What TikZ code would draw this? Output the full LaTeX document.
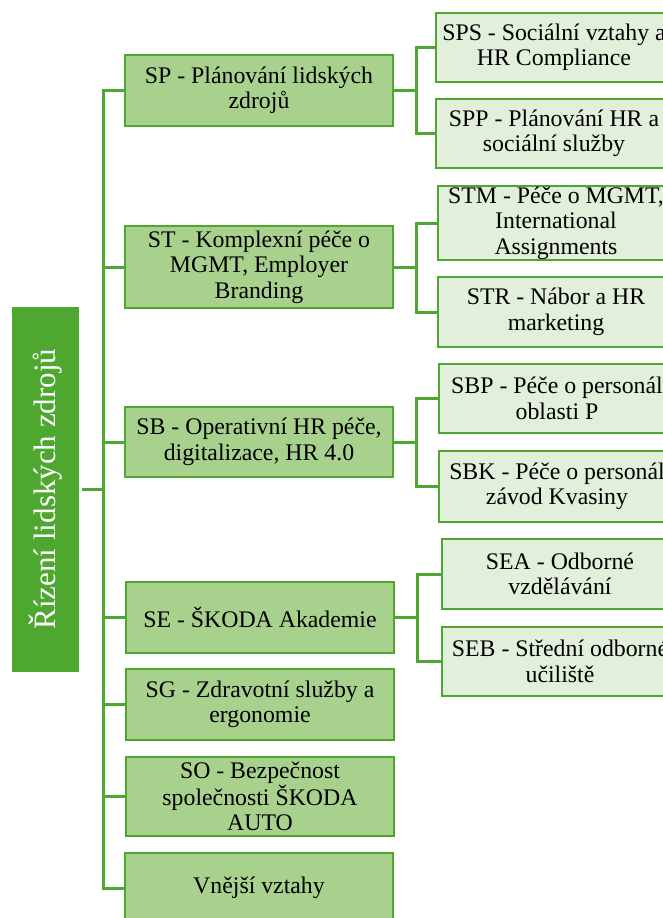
\documentclass[tikz,border=0pt]{standalone}
\usepackage{fontspec}
\setmainfont{Liberation Serif}
\definecolor{hrgreen}{HTML}{4EA72E}
\definecolor{unitfill}{HTML}{A9D18E}
\definecolor{subfill}{HTML}{E2EFDA}
\tikzset{
  rootbox/.style={fill=hrgreen, text=white, rotate=90, minimum width=365pt,
    minimum height=67pt, inner sep=0pt, font=\fontsize{31}{34}\selectfont},
  unitbox/.style={draw=hrgreen, fill=unitfill, line width=2.8pt, minimum width=268pt,
    align=center, inner sep=0pt, font=\fontsize{23.8}{25.5}\selectfont},
  subbox/.style={draw=hrgreen, fill=subfill, line width=2.8pt, minimum width=236pt,
    align=center, inner sep=0pt, font=\fontsize{23.8}{25.5}\selectfont},
  link/.style={draw=hrgreen, line width=3pt}
}

\begin{document}
\begin{tikzpicture}[x=1pt,y=-1pt]
    \useasboundingbox (0,0) rectangle (663,918);
    % root
    \node[rootbox] (root) at (45.5,489) {Řízení lidských zdrojů};
    \coordinate (trunk) at (103,489);
    % units
    \node[unitbox, minimum height=71pt] (sp) at (259,90.5) {SP - Plánování lidských\\zdrojů};
    \node[unitbox, minimum height=82pt] (st) at (259,267) {ST - Komplexní péče o\\MGMT, Employer\\Branding};
    \node[unitbox, minimum height=70pt] (sb) at (259,442) {SB - Operativní HR péče,\\digitalizace, HR 4.0};
    \node[unitbox, minimum height=71pt] (se) at (260,617.5) {SE - ŠKODA Akademie};
    \node[unitbox, minimum height=71pt] (sg) at (260,704.5) {SG - Zdravotní služby a\\ergonomie};
    \node[unitbox, minimum height=79pt] (so) at (260,796.5) {SO - Bezpečnost\\společnosti ŠKODA\\AUTO};
    \node[unitbox, minimum height=70pt] (vv) at (259,888) {Vnější vztahy};
    % sub units
    \node[subbox, minimum height=69pt] (sps) at (554,47.5) {SPS - Sociální vztahy a\\HR Compliance};
    \node[subbox, minimum height=69pt] (spp) at (554,133.5) {SPP - Plánování HR a\\sociální služby};
    \node[subbox, minimum height=74pt] (stm) at (556,223) {STM - Péče o MGMT,\\International\\Assignments};
    \node[subbox, minimum height=70pt] (str) at (556,312) {STR - Nábor a HR\\marketing};
    \node[subbox, minimum height=69pt] (sbp) at (557,398.5) {SBP - Péče o personál\\oblasti P};
    \node[subbox, minimum height=71pt] (sbk) at (557,486.5) {SBK - Péče o personál\\závod Kvasiny};
    \node[subbox, minimum height=70pt] (sea) at (560,574) {SEA - Odborné\\vzdělávání};
    \node[subbox, minimum height=69pt] (seb) at (560,661.5) {SEB - Střední odborné\\učiliště};
    % connectors
    \draw[link, shorten <=3pt] (root.south) -- (trunk);
    \foreach \u in {sp,st,sb,se,sg,so,vv}
        \draw[link] (trunk) |- (\u.west);
    \foreach \u/\s in {sp/sps,sp/spp,st/stm,st/str,sb/sbp,sb/sbk,se/sea,se/seb}
        \draw[link] (\u.east) -- ++(22,0) |- (\s.west);
\end{tikzpicture}
\end{document}
